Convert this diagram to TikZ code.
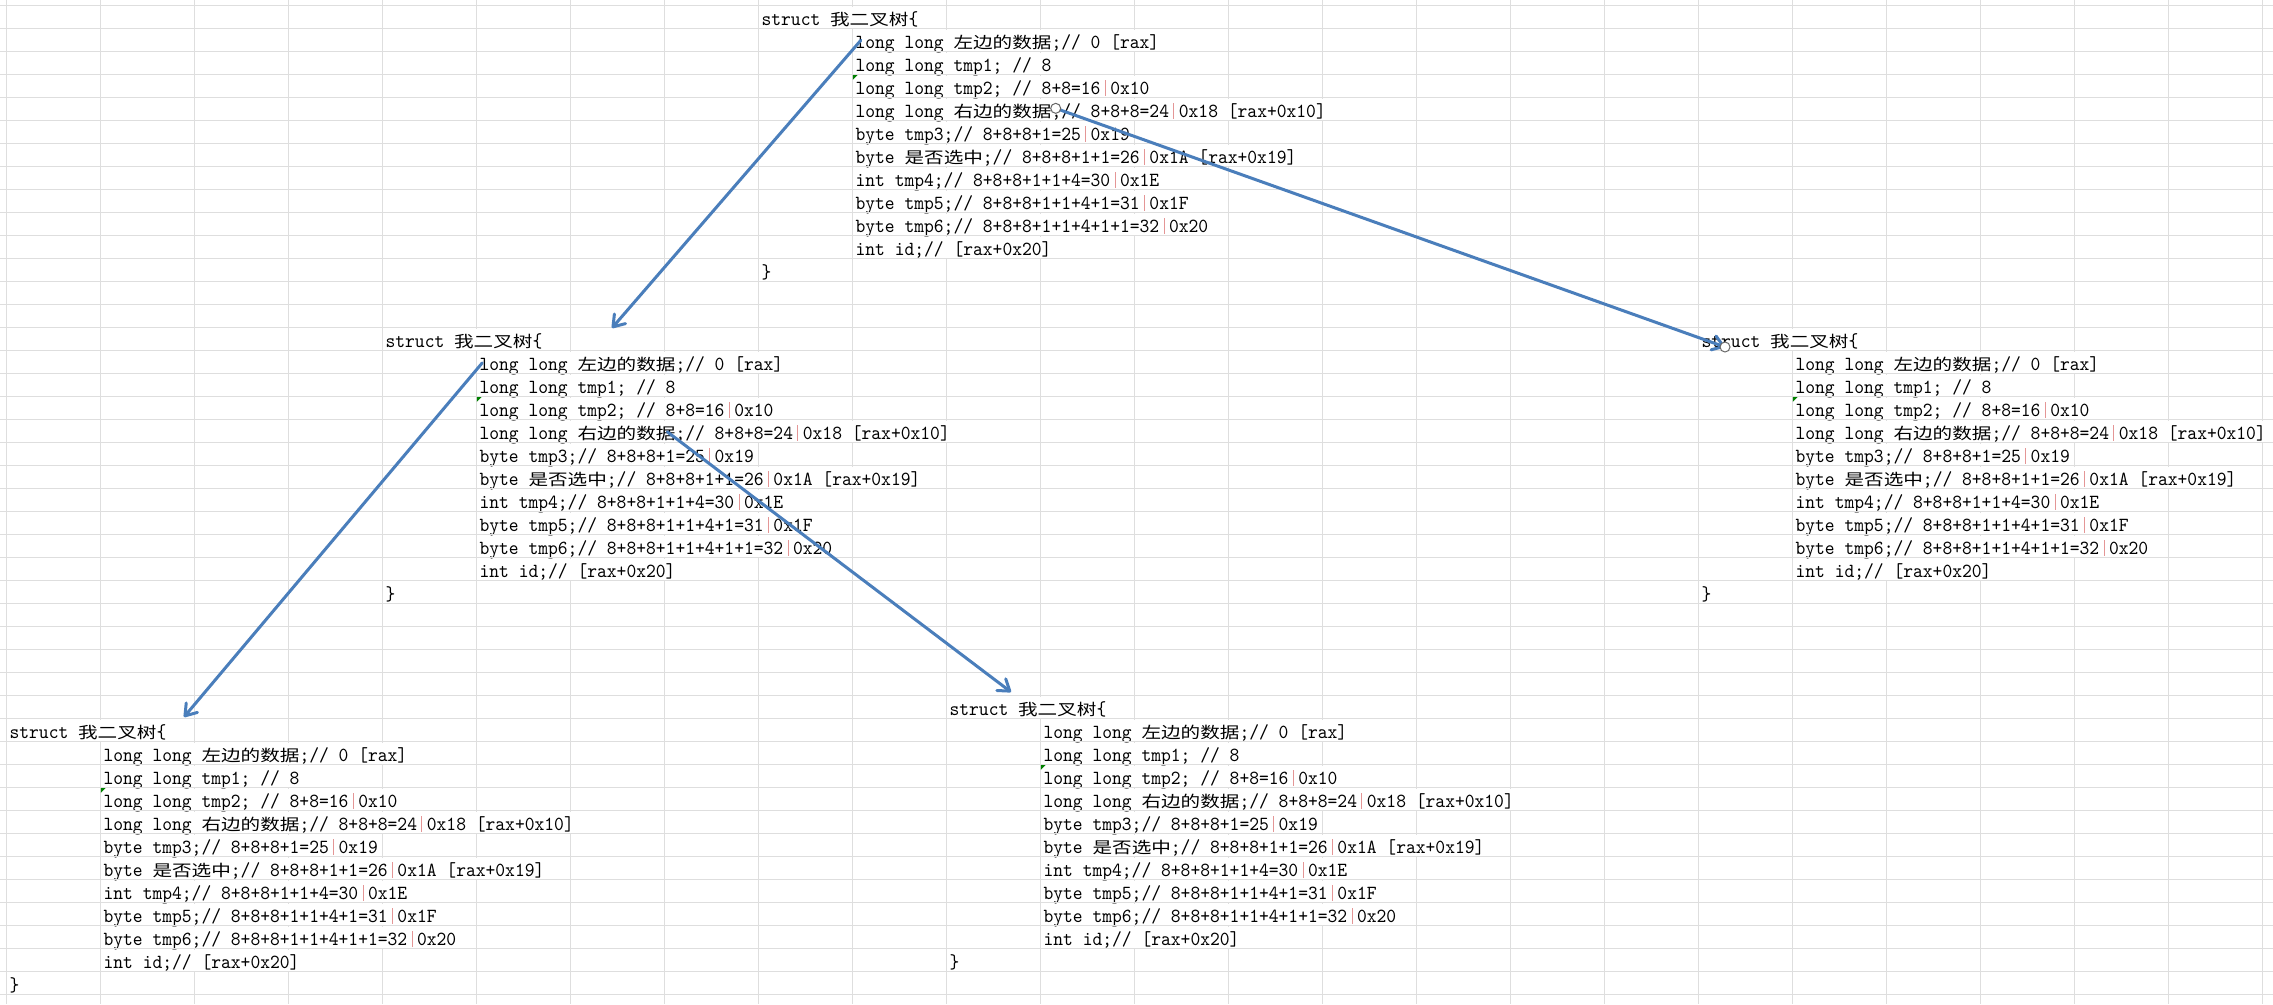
\documentclass[tikz,border=0pt]{standalone}
\usepackage{fontspec}
\usepackage{xcolor}
\usetikzlibrary{arrows.meta}
\newfontfamily\codefont[FakeStretch=0.933,WordSpace={1,0,0}]{lmmono10-regular.otf}
\newfontfamily\cjk[FakeStretch=1.235]{Noto Sans CJK SC}
\definecolor{gridgray}{RGB}{222,222,222}
\definecolor{linkblue}{RGB}{74,126,187}
\definecolor{barred}{RGB}{228,150,150}
\definecolor{errgreen}{RGB}{0,128,0}
\newcommand\zh[1]{{\cjk\fontsize{11.9pt}{16pt}\selectfont #1}}
\newcommand\fieldbar{\makebox[7.35pt]{\color{barred}\rule[-1.3pt]{0.75pt}{11.6pt}}}

% one struct listing: name, column, row
\newcommand\structblock[3]{%
  \pgfmathsetmacro\hx{6.3+94*#2+3}
  \pgfmathsetmacro\bx{6.3+94*(#2+1)+3}
  \pgfmathsetmacro\by{25+23*#3}
  \node[cell] (#1-head)  at (\hx,\by) {struct \zh{我二叉树}\{};
  \node[cell] (#1-left)  at (\bx,\by+23)  {long long \zh{左边的数据};// 0 [rax]};
  \node[cell] (#1-tmp1)  at (\bx,\by+46)  {long long tmp1; // 8};
  \node[cell] (#1-tmp2)  at (\bx,\by+69)  {long long tmp2; // 8+8=16\fieldbar 0x10};
  \fill[errgreen] (\bx-2.5,\by+49.8) -- ++(5,0) -- ++(-5,5) -- cycle;
  \node[cell] (#1-right) at (\bx,\by+92)  {long long \zh{右边的数据};// 8+8+8=24\fieldbar 0x18 [rax+0x10]};
  \node[cell] (#1-tmp3)  at (\bx,\by+115) {byte tmp3;// 8+8+8+1=25\fieldbar 0x19};
  \node[cell] (#1-sel)   at (\bx,\by+138) {byte \zh{是否选中};// 8+8+8+1+1=26\fieldbar 0x1A [rax+0x19]};
  \node[cell] (#1-tmp4)  at (\bx,\by+161) {int tmp4;// 8+8+8+1+1+4=30\fieldbar 0x1E};
  \node[cell] (#1-tmp5)  at (\bx,\by+184) {byte tmp5;// 8+8+8+1+1+4+1=31\fieldbar 0x1F};
  \node[cell] (#1-tmp6)  at (\bx,\by+207) {byte tmp6;// 8+8+8+1+1+4+1+1=32\fieldbar 0x20};
  \node[cell] (#1-id)    at (\bx,\by+230) {int id;// [rax+0x20]};
  \node[cell] (#1-close) at (\hx,\by+253) {\}};
}

\begin{document}
\begin{tikzpicture}[x=0.75pt, y=-0.75pt, >={Straight Barb[length=8pt, width=11pt, round]},
  cell/.style={anchor=base west, inner sep=0pt, fill=white, text height=13.5pt, text depth=2pt,
    font=\codefont\fontsize{15pt}{16pt}\selectfont\frenchspacing},
  gridline/.style={draw=gridgray, line width=0.75pt},
  link/.style={draw=linkblue, line width=2.25pt, line cap=round, ->},
  handle/.style={draw=black!60, fill=white, line width=0.75pt}]

  \fill[white] (0,0) rectangle (2273,1004);
  \useasboundingbox (0,0) rectangle (2273,1004);

  % sheet columns
  \foreach \c in {0,...,24}
    \draw[gridline] ({6.3+94*\c},0) -- ({6.3+94*\c},1004);

  \structblock{T}{8}{0}
  \structblock{L}{4}{14}
  \structblock{R}{18}{14}
  \structblock{BL}{0}{31}
  \structblock{BM}{10}{30}

  % sheet rows
  \foreach \r in {0,...,43}
    \draw[gridline] (0,{5.3+23*\r}) -- (2273,{5.3+23*\r});

  % pointer ends
  \coordinate (T-lout) at ([shift={(5.5,0)}]T-left.west);
  \coordinate (T-rout) at ([shift={(200.4,-1)}]T-right.west);
  \coordinate (L-lout) at ([shift={(3,0.5)}]L-left.west);
  \coordinate (L-rout) at ([shift={(188,0.5)}]L-right.west);
  \coordinate (L-in)  at (612,328);
  \coordinate (R-in)  at (1725,347);
  \coordinate (BL-in) at (184,717);
  \coordinate (BM-in) at (1011,692);

  \draw[link] (T-lout) -- (L-in);
  \draw[link] (T-rout) -- (R-in);
  \draw[link] (L-lout) -- (BL-in);
  \draw[link] (L-rout) -- (BM-in);

  \draw[handle] (T-rout) circle[radius=5];
  \draw[handle] (R-in) circle[radius=5];
\end{tikzpicture}
\end{document}
